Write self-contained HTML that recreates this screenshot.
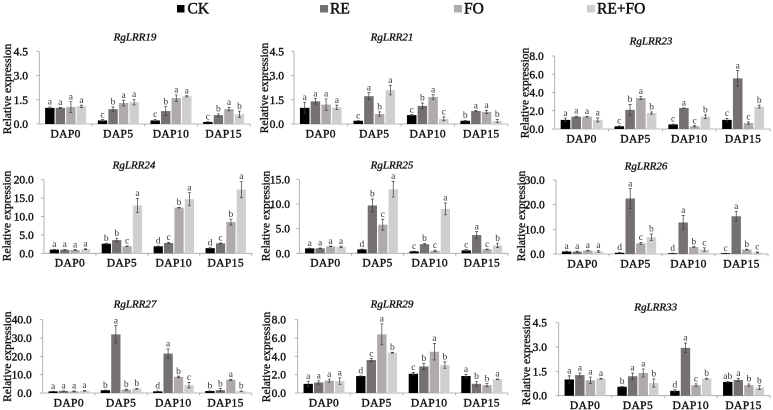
<!DOCTYPE html>
<html lang="en">
<head>
<meta charset="utf-8">
<title>RgLRR relative expression</title>
<style>
html,body{margin:0;padding:0;background:#fff;width:773px;height:410px;overflow:hidden}
svg{display:block}
text{font-family:"Liberation Serif","Times New Roman",serif;fill:#111;font-weight:normal}
.tick{font-size:11.5px;text-anchor:end;stroke:#111;stroke-width:.4px}
.cat{font-size:11.5px;text-anchor:middle;letter-spacing:.4px;stroke:#111;stroke-width:.4px}
.ytitle{font-size:11.5px;text-anchor:middle;stroke:#111;stroke-width:.35px}
.gene{font-size:11px;font-style:italic;text-anchor:middle;stroke:#111;stroke-width:.35px}
.sig{font-size:9.5px;text-anchor:middle;fill:#333}
.leg{font-size:15.5px;stroke:#111;stroke-width:.5px}
</style>
</head>
<body>
<svg id="figure" xmlns="http://www.w3.org/2000/svg" width="773" height="410" viewBox="0 0 773 410">
  <g>
    <g><rect x="177" y="5" width="7.5" height="7.5" fill="#000"/><text class="leg" x="187.5" y="13.5">CK</text></g>
    <g><rect x="320" y="5" width="8" height="7.5" fill="#767171"/><text class="leg" x="330" y="13.5">RE</text></g>
    <g><rect x="454" y="5" width="8" height="7.5" fill="#afabab"/><text class="leg" x="464" y="13.5">FO</text></g>
    <g><rect x="587" y="5" width="8" height="7.5" fill="#d0cece"/><text class="leg" x="597" y="13.5">RE+FO</text></g>
  </g>
</svg>
<script>
const categories = ['DAP0', 'DAP5', 'DAP10', 'DAP15'];
const seriesNames = ['ck', 're', 'fo', 're-fo'];
const seriesColors = ['#000000', '#767171', '#afabab', '#d0cece'];

const lrr19Values = [[1.0, 0.22, 0.22, 0.13], [1.0, 0.92, 0.8, 0.55], [1.05, 1.3, 1.6, 0.92], [1.1, 1.35, 1.72, 0.6]];
const lrr19Errors = [[0.05, 0.05, 0.07, 0.01], [0.03, 0.13, 0.28, 0.08], [0.33, 0.18, 0.2, 0.1], [0.07, 0.17, 0.04, 0.2]];
const lrr19Letters = [['a', 'c', 'c', 'c'], ['a', 'b', 'b', 'b'], ['a', 'a', 'a', 'a'], ['a', 'a', 'a', 'b']];
const lrr19Ticks = ['0.0', '1.5', '3.0', '4.5'];

const lrr21Values = [[1.0, 0.2, 0.55, 0.2], [1.4, 1.72, 1.12, 0.8], [1.2, 0.62, 1.67, 0.75], [1.03, 2.1, 0.32, 0.18]];
const lrr21Errors = [[0.35, 0.01, 0.03, 0.02], [0.17, 0.22, 0.18, 0.03], [0.35, 0.13, 0.14, 0.1], [0.14, 0.3, 0.12, 0.1]];
const lrr21Letters = [['a', 'c', 'c', 'b'], ['a', 'a', 'b', 'a'], ['a', 'b', 'a', 'a'], ['a', 'a', 'c', 'b']];
const lrr21Ticks = ['0.0', '1.5', '3.0', '4.5'];

const lrr23Values = [[1.0, 0.3, 0.5, 1.0], [1.35, 2.1, 2.3, 5.55], [1.35, 3.4, 0.3, 0.65], [1.0, 1.75, 1.35, 2.45]];
const lrr23Errors = [[0.2, 0.05, 0.05, 0.15], [0.07, 0.6, 0.02, 0.85], [0.03, 0.17, 0.07, 0.12], [0.22, 0.12, 0.2, 0.17]];
const lrr23Letters = [['a', 'c', 'c', 'c'], ['a', 'b', 'a', 'a'], ['a', 'a', 'c', 'c'], ['a', 'b', 'b', 'b']];
const lrr23Ticks = ['0.0', '2.0', '4.0', '6.0', '8.0'];

const lrr24Values = [[1.0, 2.6, 1.9, 1.4], [0.95, 3.6, 2.8, 2.7], [0.9, 1.9, 12.4, 8.5], [1.1, 13.0, 14.7, 17.3]];
const lrr24Errors = [[0.05, 0.15, 0.1, 0.1], [0.1, 0.5, 0.2, 0.1], [0.1, 0.1, 0.1, 0.8], [0.1, 1.9, 1.8, 2.2]];
const lrr24Letters = [['a', 'b', 'd', 'd'], ['a', 'b', 'c', 'c'], ['a', 'c', 'b', 'b'], ['a', 'a', 'a', 'a']];
const lrr24Ticks = ['0.0', '5.0', '10.0', '15.0', '20.0'];

const lrr25Values = [[1.0, 0.8, 0.4, 0.6], [1.0, 9.7, 1.85, 3.7], [1.4, 5.8, 0.5, 0.8], [1.3, 13.0, 9.0, 1.6]];
const lrr25Errors = [[0.05, 0.05, 0.05, 0.15], [0.08, 1.3, 0.15, 0.7], [0.05, 1.1, 0.15, 0.05], [0.15, 1.6, 1.2, 0.45]];
const lrr25Letters = [['a', 'd', 'c', 'c'], ['a', 'b', 'b', 'a'], ['a', 'c', 'c', 'c'], ['a', 'a', 'a', 'b']];
const lrr25Ticks = ['0.0', '5.0', '10.0', '15.0'];

const lrr26Values = [[1.0, 0.5, 0.3, 0.3], [0.95, 22.5, 12.8, 15.3], [1.4, 4.3, 2.8, 1.8], [1.1, 6.8, 1.8, 0.6]];
const lrr26Errors = [[0.1, 0.1, 0.05, 0.03], [0.2, 4.0, 2.8, 2.0], [0.15, 0.4, 0.2, 0.15], [0.4, 1.3, 0.7, 0.2]];
const lrr26Letters = [['a', 'd', 'd', 'c'], ['a', 'a', 'a', 'a'], ['a', 'c', 'b', 'b'], ['a', 'b', 'c', 'c']];
const lrr26Ticks = ['0.0', '10.0', '20.0', '30.0'];

const lrr27Values = [[0.9, 1.5, 0.9, 1.1], [1.1, 32.0, 21.5, 1.6], [0.9, 1.8, 8.8, 7.2], [1.2, 2.3, 4.3, 1.0]];
const lrr27Errors = [[0.1, 0.1, 0.2, 0.1], [0.1, 4.7, 2.5, 0.8], [0.2, 0.3, 0.4, 0.3], [0.2, 0.2, 1.5, 0.1]];
const lrr27Letters = [['a', 'b', 'd', 'b'], ['a', 'a', 'a', 'b'], ['a', 'b', 'b', 'a'], ['a', 'b', 'c', 'b']];
const lrr27Ticks = ['0.0', '10.0', '20.0', '30.0', '40.0'];

const lrr29Values = [[1.0, 1.85, 2.1, 1.85], [1.15, 3.6, 2.9, 1.0], [1.35, 6.4, 4.5, 0.85], [1.3, 4.4, 3.05, 1.5]];
const lrr29Errors = [[0.3, 0.02, 0.15, 0.2], [0.18, 0.15, 0.35, 0.25], [0.17, 1.15, 0.9, 0.17], [0.35, 0.05, 0.35, 0.03]];
const lrr29Letters = [['a', 'd', 'c', 'a'], ['a', 'c', 'b', 'b'], ['a', 'a', 'a', 'b'], ['a', 'b', 'b', 'a']];
const lrr29Ticks = ['0.0', '2.0', '4.0', '6.0', '8.0'];

const lrr33Values = [[1.0, 0.55, 0.3, 0.85], [1.27, 1.2, 2.95, 0.97], [0.95, 1.4, 0.65, 0.65], [1.05, 0.78, 1.05, 0.5]];
const lrr33Errors = [[0.22, 0.02, 0.07, 0.03], [0.13, 0.2, 0.3, 0.1], [0.2, 0.25, 0.08, 0.07], [0.03, 0.25, 0.03, 0.12]];
const lrr33Letters = [['a', 'b', 'd', 'ab'], ['a', 'a', 'a', 'a'], ['a', 'a', 'c', 'b'], ['a', 'b', 'b', 'b']];
const lrr33Ticks = ['0.0', '1.5', '3.0', '4.5'];

const panels = [
  {gene:'RgLRR19', values:lrr19Values, errors:lrr19Errors, letters:lrr19Letters, ticks:lrr19Ticks, left:39.3, right:250, top:51.3, base:124, tickEnd:28, titleX:7, titleY:89, geneX:135, geneY:40.5},
  {gene:'RgLRR21', values:lrr21Values, errors:lrr21Errors, letters:lrr21Letters, ticks:lrr21Ticks, left:294, right:508, top:51.3, base:124, tickEnd:284, titleX:264, titleY:88, geneX:392, geneY:40.5},
  {gene:'RgLRR23', values:lrr23Values, errors:lrr23Errors, letters:lrr23Letters, ticks:lrr23Ticks, left:554.7, right:770, top:56, base:129, tickEnd:543.7, titleX:524.7, titleY:93, geneX:651, geneY:44.5},
  {gene:'RgLRR24', values:lrr24Values, errors:lrr24Errors, letters:lrr24Letters, ticks:lrr24Ticks, left:44, right:251.7, top:179.7, base:253.3, tickEnd:33.7, titleX:6.7, titleY:216, geneX:134, geneY:168.5},
  {gene:'RgLRR25', values:lrr25Values, errors:lrr25Errors, letters:lrr25Letters, ticks:lrr25Ticks, left:299.3, right:508, top:179.3, base:253.3, tickEnd:290, titleX:265.7, titleY:216, geneX:392, geneY:168.5},
  {gene:'RgLRR26', values:lrr26Values, errors:lrr26Errors, letters:lrr26Letters, ticks:lrr26Ticks, left:556, right:768, top:180, base:254, tickEnd:544.7, titleX:521, titleY:216, geneX:646, geneY:169.5},
  {gene:'RgLRR27', values:lrr27Values, errors:lrr27Errors, letters:lrr27Letters, ticks:lrr27Ticks, left:42.7, right:251.7, top:319.7, base:393, tickEnd:31.7, titleX:7, titleY:356.7, geneX:135, geneY:307.5},
  {gene:'RgLRR29', values:lrr29Values, errors:lrr29Errors, letters:lrr29Letters, ticks:lrr29Ticks, left:297.7, right:508, top:319.7, base:393, tickEnd:286, titleX:266, titleY:357, geneX:392, geneY:307.5},
  {gene:'RgLRR33', values:lrr33Values, errors:lrr33Errors, letters:lrr33Letters, ticks:lrr33Ticks, left:558.7, right:770, top:322.7, base:395.7, tickEnd:547, titleX:526, titleY:360, geneX:655.7, geneY:310.5}
];

const svg = document.getElementById('figure');
const NS = 'http://www.w3.org/2000/svg';

function make(parent, tag, attrs, text) {
  const el = document.createElementNS(NS, tag);
  for (const key in attrs) el.setAttribute(key, attrs[key]);
  if (text !== undefined) el.textContent = text;
  
  parent.appendChild(el);
  return el;
}

panels.forEach(function (panel) {
  const slug = panel.gene.toLowerCase();
  const maxValue = parseFloat(panel.ticks[panel.ticks.length - 1]);
  const yScale = function (v) { return panel.base - (v / maxValue) * (panel.base - panel.top); };
  const step = (panel.right - panel.left) / categories.length;
  const groupX = function (g) { return panel.left + step * (g + 0.5); };
  const barGap = step * 0.2;
  const barWidth = step * 0.178;
  const barX = function (g, s) { return groupX(g) + (s - 1.5) * barGap; };

  const group = make(svg, 'g', {});
  

  const title = make(group, 'text', {class:'gene', x:panel.geneX, y:panel.geneY}, panel.gene);
  

  const yTitle = make(group, 'text', {class:'ytitle', x:0, y:0, transform:'translate(' + (panel.titleX + 4) + ' ' + panel.titleY + ') rotate(-90)'}, 'Relative expression');
  

  const yAxis = make(group, 'line', {x1:panel.left, x2:panel.left, y1:panel.top, y2:panel.base, stroke:'#a0a0a0', 'stroke-width':0.8});
  

  const xAxis = make(group, 'line', {x1:panel.left, x2:panel.right, y1:panel.base, y2:panel.base, stroke:'#a0a0a0', 'stroke-width':0.8});
  

  panel.ticks.forEach(function (label) {
    const y = yScale(parseFloat(label));
    const mark = make(group, 'line', {x1:panel.left - 3, x2:panel.left, y1:y, y2:y, stroke:'#a0a0a0', 'stroke-width':0.8});
    
    const tickText = make(group, 'text', {class:'tick', x:panel.tickEnd, y:y + 4}, label);
    
  });

  categories.forEach(function (cat, g) {
    const boundary = panel.left + step * (g + 1);
    const catMark = make(group, 'line', {x1:boundary, x2:boundary, y1:panel.base, y2:panel.base + 2.5, stroke:'#a0a0a0', 'stroke-width':0.8});
    
    const catText = make(group, 'text', {class:'cat', x:groupX(g), y:panel.base + 13.4}, cat);
    

    seriesNames.forEach(function (name, s) {
      const value = panel.values[s][g];
      const err = panel.errors[s][g];
      const x = barX(g, s);
      const y = yScale(value);
      const bar = make(group, 'rect', {x:x - barWidth / 2, y:y, width:barWidth, height:panel.base - y, fill:seriesColors[s]});
      
      const yHi = yScale(value + err);
      const yLo = yScale(Math.max(0, value - err));
      const errorBar = make(group, 'path', {d:'M' + x + ' ' + yHi + 'V' + yLo + 'M' + (x - 1.5) + ' ' + yHi + 'h3M' + (x - 1.5) + ' ' + yLo + 'h3', stroke:'#3a3a3a', 'stroke-width':0.7, fill:'none'});
      
      const sig = make(group, 'text', {class:'sig', x:x, y:yHi - 2.3}, panel.letters[s][g]);
      
    });
  });
});
</script>
</body>
</html>
